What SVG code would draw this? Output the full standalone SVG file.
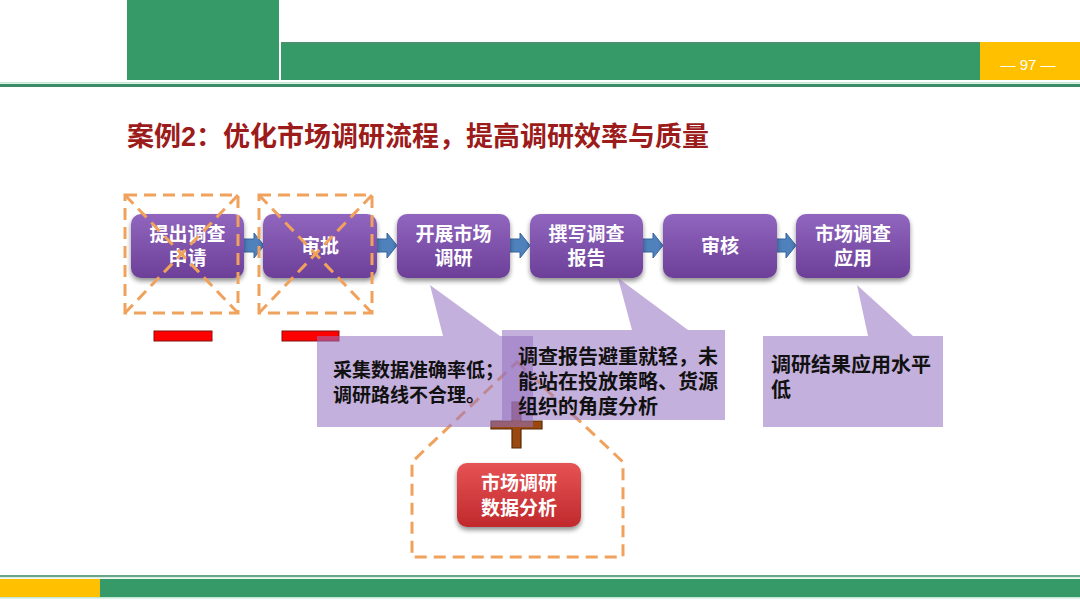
<svg xmlns="http://www.w3.org/2000/svg" width="1080" height="608" viewBox="0 0 1080 608">
<defs>
<linearGradient id="gp" x1="0" y1="0" x2="0" y2="1">
<stop offset="0" stop-color="#9166bf"/>
<stop offset="1" stop-color="#6c3f98"/>
</linearGradient>
<linearGradient id="gr" x1="0" y1="0" x2="0" y2="1">
<stop offset="0" stop-color="#e65355"/>
<stop offset="1" stop-color="#c0292d"/>
</linearGradient>
<filter id="sh" x="-20%" y="-20%" width="140%" height="150%">
<feGaussianBlur in="SourceAlpha" stdDeviation="2.5"/>
<feOffset dx="0" dy="3" result="b"/>
<feComponentTransfer><feFuncA type="linear" slope="0.45"/></feComponentTransfer>
<feMerge><feMergeNode/><feMergeNode in="SourceGraphic"/></feMerge>
</filter>
</defs>
<style>
.box{fill:url(#gp);filter:url(#sh);}
.bt{font-family:"Liberation Sans","Noto Sans CJK SC",sans-serif;font-weight:bold;font-size:19px;fill:#ffffff;text-anchor:middle;}
.dash{fill:none;stroke:#f0a15c;stroke-width:3;stroke-dasharray:12 7;}
.arr{fill:#4f81bd;stroke:#36659c;stroke-width:1;}
.call{fill:#9672c1;opacity:0.56;}
.ct{font-family:"Liberation Sans","Noto Sans CJK SC",sans-serif;font-weight:bold;fill:#111111;}
.red{fill:#ff0000;stroke:#8a1010;stroke-width:1;}
</style>
<rect width="1080" height="608" fill="#ffffff"/>
<g id="header">
<rect x="127" y="0" width="152" height="80" fill="#359a68"/>
<rect x="281" y="42" width="699" height="38" fill="#359a68"/>
<rect x="281" y="42" width="699" height="1.5" fill="#4f8f70"/>
<rect x="980" y="42" width="100" height="38" fill="#ffc000"/>
<text x="1028" y="70" font-family="Liberation Sans, sans-serif" font-size="15" fill="#ffffff" text-anchor="middle">— 97 —</text>
<rect x="0" y="82" width="1080" height="1.5" fill="#bfe8d2"/>
<rect x="0" y="84" width="1080" height="3" fill="#3a8c66"/>
</g>
<text id="title" x="127" y="146" font-family="Liberation Sans, Noto Sans CJK SC, sans-serif" font-weight="bold" font-size="27" fill="#9c1b1b">案例2：优化市场调研流程，提高调研效率与质量</text>
<g id="connectors">
<polygon class="arr" points="243,239 254,239 254,233 264,245.5 254,258 254,252 243,252"/>
<polygon class="arr" points="376,239 387,239 387,233 397,245.5 387,258 387,252 376,252"/>
<polygon class="arr" points="509,239 520,239 520,233 530,245.5 520,258 520,252 509,252"/>
<polygon class="arr" points="642,239 653,239 653,233 663,245.5 653,258 653,252 642,252"/>
<polygon class="arr" points="776,239 786,239 786,233 796,245.5 786,258 786,252 776,252"/>
</g>
<g id="n1"><rect class="box" x="131" y="214" width="113" height="64" rx="10"/><text class="bt" x="187.5" y="241">提出调查</text><text class="bt" x="187.5" y="265">申请</text></g>
<g id="n2"><rect class="box" x="263" y="214" width="114" height="64" rx="10"/><text class="bt" x="320" y="253">审批</text></g>
<g id="n3"><rect class="box" x="397" y="214" width="113" height="64" rx="10"/><text class="bt" x="453.5" y="241">开展市场</text><text class="bt" x="453.5" y="265">调研</text></g>
<g id="n4"><rect class="box" x="530" y="214" width="113" height="64" rx="10"/><text class="bt" x="586.5" y="241">撰写调查</text><text class="bt" x="586.5" y="265">报告</text></g>
<g id="n5"><rect class="box" x="663" y="214" width="114" height="64" rx="10"/><text class="bt" x="720" y="253">审核</text></g>
<g id="n6"><rect class="box" x="796" y="214" width="114" height="64" rx="10"/><text class="bt" x="853" y="241">市场调查</text><text class="bt" x="853" y="265">应用</text></g>
<g id="cross1">
<rect class="dash" x="125" y="195" width="113" height="118"/>
<line class="dash" x1="125" y1="195" x2="238" y2="313"/>
<line class="dash" x1="238" y1="195" x2="125" y2="313"/>
</g>
<g id="cross2">
<rect class="dash" x="259" y="195" width="113" height="118"/>
<line class="dash" x1="259" y1="195" x2="372" y2="313"/>
<line class="dash" x1="372" y1="195" x2="259" y2="313"/>
</g>
<rect id="bar1" class="red" x="154" y="331" width="58" height="10"/>
<rect id="bar2" class="red" x="282" y="331" width="57" height="10"/>
<g id="plus">
<path d="M512,402 H521 V421 H542 V429 H521 V448 H512 V429 H491 V421 H512 Z" fill="#99480f" stroke="#5a2a08" stroke-width="1.2"/>
</g>
<polygon id="pentagon" class="dash" points="517,362 623,462 623,557 412,557 412,462"/>
<g id="c1">
<path class="call" d="M317,336 H443 L430,285 L500,336 H533 V427 H317 Z"/>
</g>
<g id="c2">
<path class="call" d="M502,330 H632 L618,278 L688,330 H725 V420 H502 Z"/>
</g>
<g id="c3">
<path class="call" d="M763,336 H868 L857,285 L913,336 H943 V427 H763 Z"/>
</g>
<g id="c1t" class="ct" font-size="19"><text x="333" y="377">采集数据准确率低；</text><text x="333" y="402">调研路线不合理。</text></g>
<g id="c2t" class="ct" font-size="20"><text x="518" y="364">调查报告避重就轻，未</text><text x="518" y="389">能站在投放策略、货源</text><text x="518" y="414">组织的角度分析</text></g>
<g id="c3t" class="ct" font-size="20"><text x="771" y="372">调研结果应用水平</text><text x="771" y="397">低</text></g>
<g id="n7"><rect x="457" y="463" width="124" height="64" rx="10" fill="url(#gr)" filter="url(#sh)"/><text class="bt" x="519" y="490" font-size="20">市场调研</text><text class="bt" x="519" y="515" font-size="20">数据分析</text></g>
<g id="footer">
<rect x="0" y="575" width="1080" height="2" fill="#6aa58a"/>
<rect x="0" y="577" width="1080" height="1.5" fill="#d8f0e4"/>
<rect x="0" y="579" width="100" height="18" fill="#ffc000"/>
<rect x="100" y="579" width="980" height="18" fill="#359a68"/>
<rect x="0" y="597" width="1080" height="1.5" fill="#bfe8d2"/>
</g>
</svg>
